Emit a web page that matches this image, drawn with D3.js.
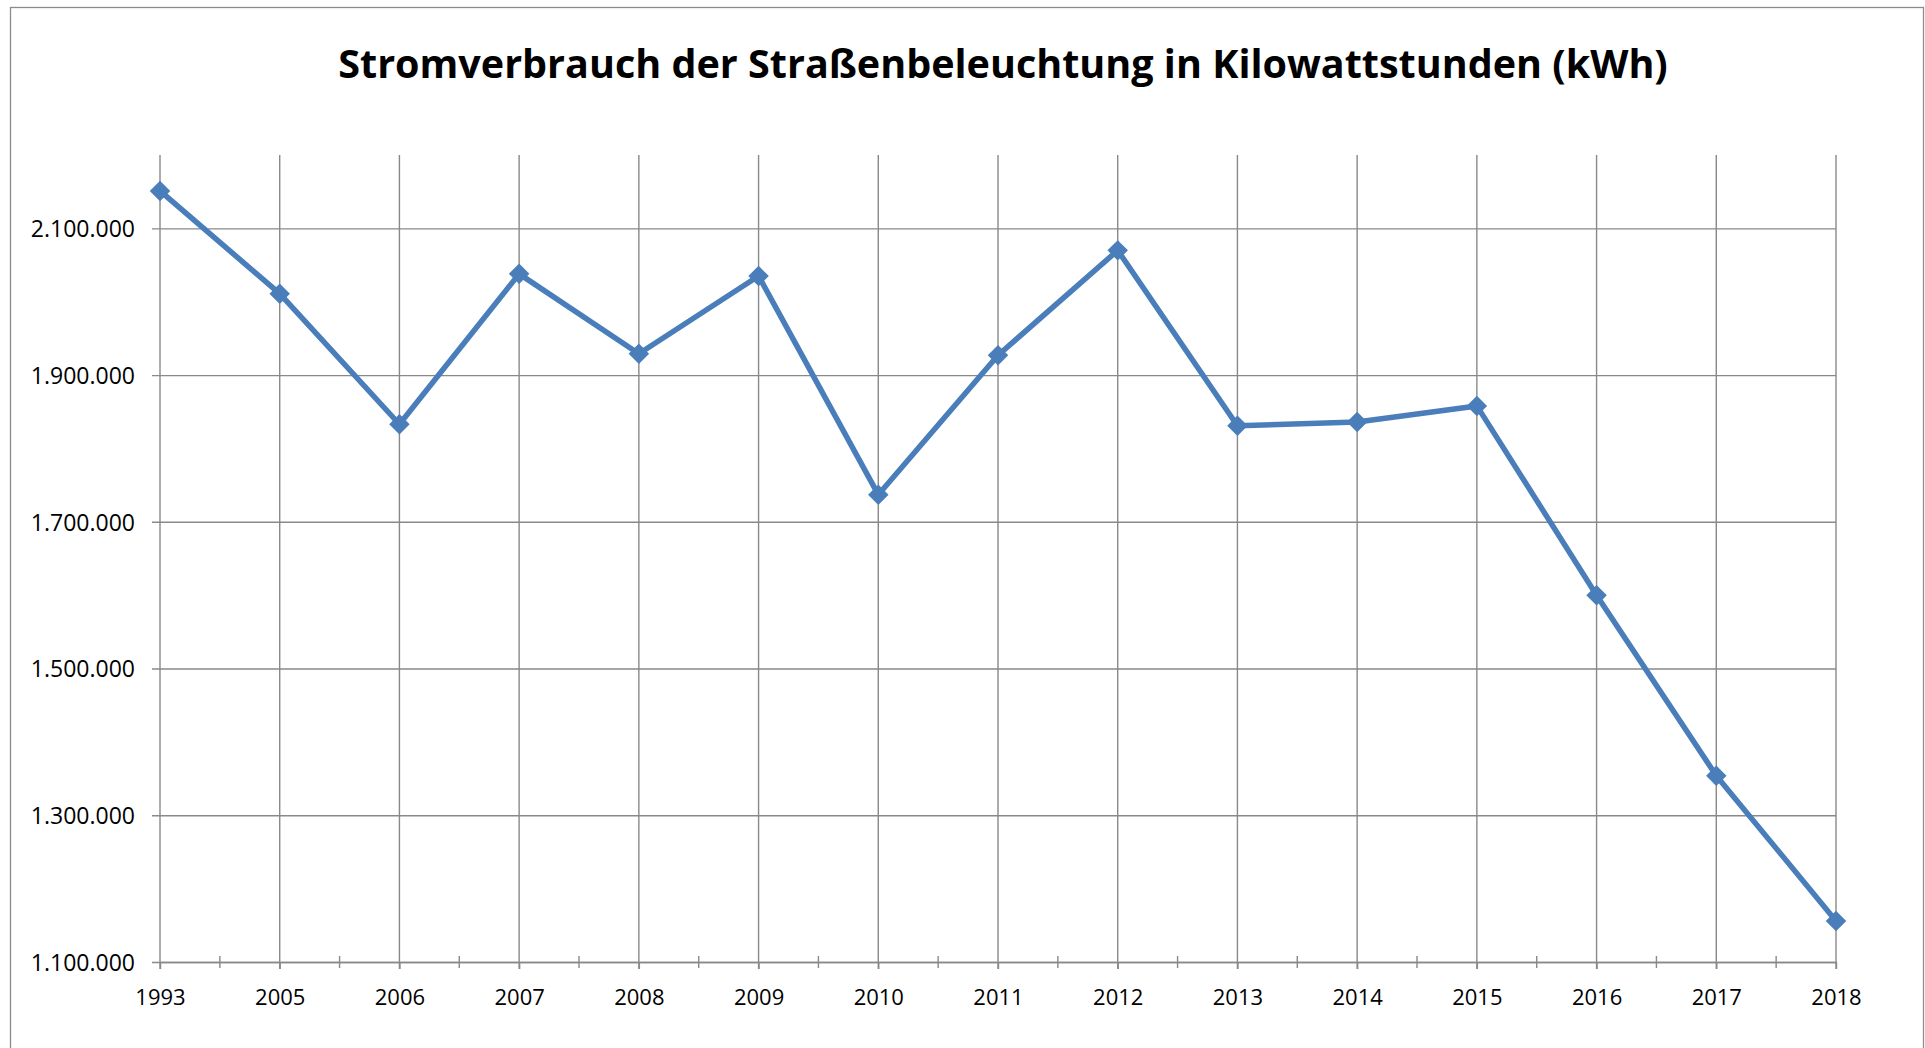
<!DOCTYPE html>
<html>
<head>
<meta charset="utf-8">
<script src="https://cdn.jsdelivr.net/npm/d3@7"></script>
<style>
  body { margin: 0; background: #fff; }
  svg { display: block; }
  .axis-text { font-family: "Open Sans", sans-serif; font-size: 22px; fill: #000; }
  .y-label { font-size: 23px; }
</style>
</head>
<body>
<div id="chart"></div>
<script>
// ---------------- data ----------------
const TITLE = "Stromverbrauch der Straßenbeleuchtung in Kilowattstunden (kWh)";

const years = ["1993", "2005", "2006", "2007", "2008", "2009", "2010", "2011",
               "2012", "2013", "2014", "2015", "2016", "2017", "2018"];

const consumption = [2151000, 2011000, 1833000, 2038000, 1929000, 2035000, 1737000, 1927000,
                     2070000, 1831000, 1836000, 1858000, 1600000, 1354000, 1156000];

const yTicks = [1100000, 1300000, 1500000, 1700000, 1900000, 2100000];
const yDomain = [1100000, 2200000];

// ---------------- layout ----------------
const W = 1925, H = 1048;
const plot = { left: 160, right: 1836, top: 155, bottom: 962 };
const gridColor = "#898989";
const lineColor = "#4a7ebb";

const de = d3.formatLocale({ decimal: ",", thousands: ".", grouping: [3], currency: ["", " €"] });
const fmt = de.format(",d");

const svg = d3.select("#chart").append("svg")
  .attr("width", W)
  .attr("height", H);

// outer chart frame
svg.append("rect")
  .attr("x", 10.5).attr("y", 7.5)
  .attr("width", 1913).attr("height", 1060)
  .attr("fill", "#fff")
  .attr("stroke", "#8c8c8c")
  .attr("stroke-width", 1.3);

const x = d3.scalePoint().domain(years).range([plot.left, plot.right]);
const y = d3.scaleLinear().domain(yDomain).range([plot.bottom, plot.top]);

// horizontal gridlines + y axis
const yAxis = svg.append("g")
  .attr("transform", `translate(${plot.left},0)`)
  .call(d3.axisLeft(y)
    .tickValues(yTicks)
    .tickSize(-(plot.right - plot.left))
    .tickSizeOuter(0)
    .tickPadding(25)
    .tickFormat(fmt));
yAxis.select(".domain").remove();
yAxis.selectAll(".tick line")
  .attr("x1", -8)
  .attr("stroke", gridColor)
  .attr("stroke-width", 1.4);
yAxis.selectAll(".tick text")
  .attr("class", "axis-text y-label")
  .attr("font-size", null)
  .attr("font-family", null)
  .attr("dy", "0.36em");

// vertical gridlines
svg.append("g").selectAll("line")
  .data(years)
  .join("line")
  .attr("x1", d => x(d)).attr("x2", d => x(d))
  .attr("y1", plot.top).attr("y2", plot.bottom + 7)
  .attr("stroke", gridColor)
  .attr("stroke-width", 1.4);

// x axis (baseline + minor ticks between categories)
const xAxis = svg.append("g")
  .attr("transform", `translate(0,${plot.bottom})`)
  .call(d3.axisBottom(x).tickSize(7).tickSizeOuter(0).tickPadding(20));
xAxis.select(".domain")
  .attr("stroke", gridColor)
  .attr("stroke-width", 1.4);
xAxis.selectAll(".tick line").attr("stroke", gridColor).attr("stroke-width", 1.4);
xAxis.selectAll(".tick text")
  .attr("class", "axis-text")
  .attr("font-size", null)
  .attr("font-family", null);

const step = x.step();
xAxis.append("g").selectAll("line")
  .data(years.slice(1))
  .join("line")
  .attr("x1", d => x(d) - step / 2).attr("x2", d => x(d) - step / 2)
  .attr("y1", -6).attr("y2", 6)
  .attr("stroke", gridColor)
  .attr("stroke-width", 1.4);

// series line
const line = d3.line()
  .x((d, i) => x(years[i]))
  .y(d => y(d));

svg.append("path")
  .datum(consumption)
  .attr("fill", "none")
  .attr("stroke", lineColor)
  .attr("stroke-width", 5.5)
  .attr("stroke-linejoin", "round")
  .attr("d", line);

// diamond markers
const diamond = d3.symbol().type(d3.symbolSquare).size(210);
svg.append("g").selectAll("path")
  .data(consumption)
  .join("path")
  .attr("transform", (d, i) => `translate(${x(years[i])},${y(d)}) rotate(45)`)
  .attr("d", diamond)
  .attr("fill", lineColor);

// title, fitted to the width it takes in the original
const title = svg.append("text")
  .attr("x", 1003)
  .attr("y", 78)
  .attr("text-anchor", "middle")
  .attr("font-family", "'Open Sans', sans-serif")
  .attr("font-weight", "bold")
  .attr("font-size", 40)
  .attr("fill", "#000")
  .text(TITLE);
const tw = title.node().getComputedTextLength();
title.attr("font-size", 40 * 1330 / tw);
</script>
</body>
</html>
